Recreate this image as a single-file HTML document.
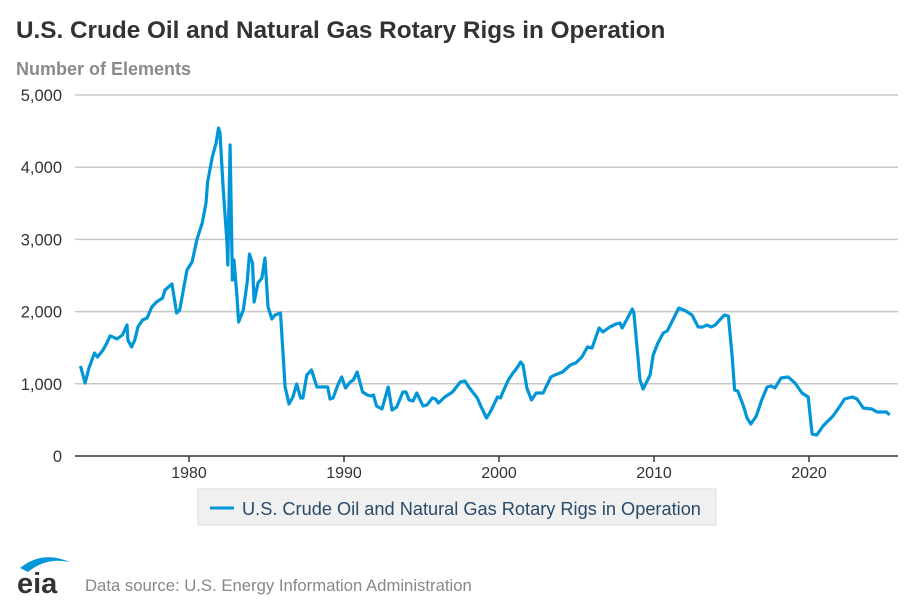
<!DOCTYPE html>
<html><head><meta charset="utf-8"><style>
body{margin:0;background:#fff;font-family:"Liberation Sans",Arial,sans-serif;}
#wrap{position:relative;width:914px;height:609px;overflow:hidden;}
</style></head><body>
<div id="wrap">
<svg id="chart" width="914" height="609">
<text x="16" y="38" font-size="24.3" font-weight="bold" fill="#333">U.S. Crude Oil and Natural Gas Rotary Rigs in Operation</text>
<text x="16" y="75" font-size="18" font-weight="bold" fill="#8a8a8a">Number of Elements</text>
<g id="grid"></g><g id="xaxis"></g><g id="series"></g>
<g>
<rect x="198" y="489" width="518" height="36" fill="#f0f0f0" stroke="#ddd"/>
<line x1="210" y1="508" x2="234" y2="508" stroke="#0096d7" stroke-width="3"/>
<text x="242" y="515" font-size="18.2" fill="#2a4a6a">U.S. Crude Oil and Natural Gas Rotary Rigs in Operation</text>
</g>
<g>
<path d="M20 568 Q42 550 70 562 Q46 557 28 572 Z" fill="#0096d7"/>
<text x="17" y="593" font-size="29" font-weight="bold" fill="#333">eia</text>
</g>
<text x="85" y="591" font-size="16.7" fill="#888">Data source: U.S. Energy Information Administration</text>
</svg>
</div>
<script>
const years=[1973.0,1973.3,1973.55,1973.9,1974.1,1974.45,1974.7,1974.9,1975.1,1975.35,1975.7,1976.0,1976.06,1976.3,1976.5,1976.7,1977.0,1977.3,1977.6,1977.9,1978.3,1978.45,1978.9,1979.2,1979.4,1979.6,1979.87,1980.2,1980.5,1980.85,1981.1,1981.2,1981.5,1981.75,1981.9,1982.0,1982.2,1982.45,1982.5,1982.65,1982.8,1982.9,1983.1,1983.2,1983.5,1983.75,1983.9,1984.1,1984.2,1984.45,1984.7,1984.9,1985.1,1985.35,1985.55,1985.9,1986.2,1986.45,1986.7,1986.95,1987.2,1987.35,1987.6,1987.9,1988.25,1988.5,1988.95,1989.1,1989.3,1989.6,1989.85,1990.1,1990.4,1990.6,1990.85,1991.2,1991.5,1991.7,1991.9,1992.1,1992.45,1992.85,1993.1,1993.4,1993.8,1994.0,1994.2,1994.45,1994.7,1995.1,1995.35,1995.7,1995.9,1996.1,1996.5,1997.0,1997.5,1997.8,1998.1,1998.6,1998.85,1999.2,1999.5,1999.9,2000.1,2000.25,2000.6,2000.9,2001.2,2001.4,2001.55,2001.8,2002.1,2002.4,2002.85,2003.0,2003.35,2003.6,2004.1,2004.6,2004.95,2005.35,2005.7,2006.0,2006.3,2006.45,2006.7,2007.15,2007.55,2007.8,2007.95,2008.3,2008.6,2008.7,2008.9,2009.1,2009.3,2009.75,2009.95,2010.25,2010.6,2010.85,2011.15,2011.6,2012.05,2012.45,2012.85,2013.15,2013.4,2013.7,2013.95,2014.3,2014.55,2014.8,2015.05,2015.2,2015.4,2015.75,2016.0,2016.25,2016.6,2016.95,2017.3,2017.55,2017.8,2018.2,2018.65,2019.1,2019.55,2019.95,2020.2,2020.5,2020.9,2021.55,2022.0,2022.3,2022.8,2023.1,2023.5,2024.05,2024.4,2025.0,2025.2];
const rigs=[1247,1011,1219,1427,1371,1468,1565,1662,1648,1620,1676,1814,1607,1510,1607,1787,1884,1911,2064,2133,2188,2299,2382,1981,2022,2258,2576,2687,2992,3227,3504,3795,4141,4335,4543,4474,3726,2950,2645,4307,2438,2715,2202,1856,2022,2396,2798,2673,2133,2396,2465,2742,2064,1898,1953,1981,956,720,817,997,803,803,1122,1191,956,956,956,789,803,983,1094,942,1025,1053,1163,886,845,831,845,693,651,956,637,679,886,886,776,762,873,693,706,803,789,734,817,886,1025,1039,942,803,679,526,637,817,803,886,1053,1150,1233,1302,1260,942,776,873,873,942,1094,1122,1163,1260,1288,1371,1510,1496,1676,1773,1717,1787,1828,1842,1773,1911,2036,1981,1510,1053,928,1122,1399,1565,1704,1731,1856,2050,2008,1953,1787,1787,1814,1787,1814,1898,1953,1939,1357,914,900,706,526,443,554,776,956,970,942,1080,1094,1011,873,817,305,291,416,554,693,789,817,789,665,651,609,609,568];
const yTicks=[0,1000,2000,3000,4000,5000];
const yTickLabels=["0","1,000","2,000","3,000","4,000","5,000"];
const xTicks=[1980,1990,2000,2010,2020];
const xTickLabels=["1980","1990","2000","2010","2020"];
const NS="http://www.w3.org/2000/svg";
const X=y=>189+(y-1980)*15.5;
const Y=v=>456-v*0.0722;
function mk(tag,attrs,parent){const e=document.createElementNS(NS,tag);for(const k in attrs)e.setAttribute(k,attrs[k]);parent.appendChild(e);return e;}
const grid=document.getElementById('grid');
yTicks.forEach((t,i)=>{
  if(t>0){const l=mk('line',{x1:75,x2:898,y1:Y(t),y2:Y(t),stroke:'#c8c8c8','stroke-width':1.5},grid);
  
  }
  const tx=mk('text',{x:62,y:Y(t)+6,'text-anchor':'end','font-size':16.5,fill:'#333'},grid);
  tx.textContent=yTickLabels[i];
  
  
});
const xa=document.getElementById('xaxis');
const ax=mk('line',{x1:75,x2:898,y1:456,y2:456,stroke:'#333','stroke-width':1.5},xa);


xTicks.forEach((t,i)=>{
  const tk=mk('line',{x1:X(t),x2:X(t),y1:456,y2:462,stroke:'#333','stroke-width':1.5},xa);
  
  
  const tx=mk('text',{x:X(t),y:478,'text-anchor':'middle','font-size':16,fill:'#333'},xa);
  tx.textContent=xTickLabels[i];
  
  
});
const d=years.map((y,i)=>(i?'L':'M')+X(y).toFixed(1)+' '+Y(rigs[i]).toFixed(1)).join(' ');
const p=mk('path',{d:d,fill:'none',stroke:'#0096d7','stroke-width':3.2,'stroke-linejoin':'round'},document.getElementById('series'));


</script>
</body></html>
